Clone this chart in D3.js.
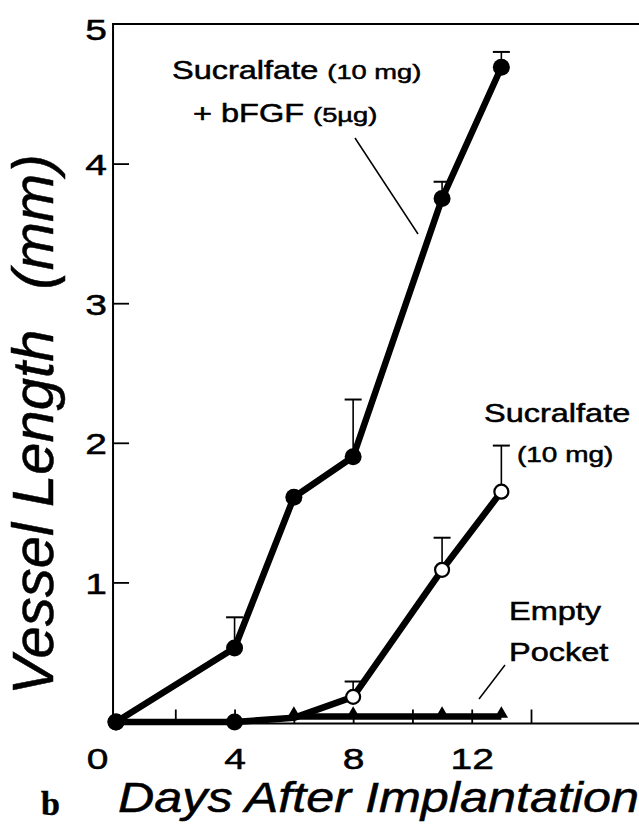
<!DOCTYPE html>
<html>
<head>
<meta charset="utf-8">
<script src="https://cdn.jsdelivr.net/npm/d3@7/dist/d3.min.js"></script>
<style>
  html, body { margin: 0; padding: 0; background: #fff; }
  svg { display: block; }
  text { font-family: "Liberation Sans", Arial, Helvetica, sans-serif; fill: #000; stroke: #000; stroke-width: 0.5px; }
</style>
</head>
<body>
<svg id="chart" width="639" height="836"></svg>
<script>
// ---- data ----
const bfgfDays  = [0, 4, 6, 8, 11, 13];
const bfgfMean  = [0, 0.53, 1.61, 1.90, 3.75, 4.69];
const bfgfUpper = [null, 0.75, null, 2.31, 3.87, 4.80];

const sucDays   = [0, 4, 6, 8, 11, 13];
const sucMean   = [0, 0, 0.03, 0.18, 1.09, 1.65];
const sucUpper  = [null, null, null, 0.29, 1.32, 1.98];

const emptyDays = [6, 8, 11, 13];
const emptyMean = [0.04, 0.04, 0.04, 0.04];

const xTicks      = [2, 4, 6, 8, 10, 12, 14];
const xTickLabels = [0, 4, 8, 12];
const yTicks      = [1, 2, 3, 4];
const yTickLabels = [1, 2, 3, 4, 5];

// ---- layout ----
const svg = d3.select("#chart");
const SX = 1.3; // horizontal stretch of the original figure's lettering

const x = d3.scaleLinear().domain([0, 14]).range([116, 531]);
const y = d3.scaleLinear().domain([0, 5]).range([722, 24]);
const xLeft = x(-0.1), xRight = 639;

// frame: top line, left axis, bottom axis
svg.append("line").attr("x1", xLeft).attr("x2", xRight).attr("y1", y(5)).attr("y2", y(5))
  .attr("stroke", "#000").attr("stroke-width", 2);
svg.append("line").attr("x1", xLeft).attr("x2", xLeft).attr("y1", y(5) - 1).attr("y2", y(0) + 2)
  .attr("stroke", "#000").attr("stroke-width", 2);

// x axis ticks (pointing up into the plot)
const gx = svg.append("g").attr("transform", `translate(0,${y(0) + 1.5})`)
  .call(d3.axisTop(x).tickValues(xTicks).tickSize(14).tickFormat(""));
gx.select(".domain").remove();
gx.selectAll(".tick line").attr("stroke", "#000").attr("stroke-width", 1.8);
svg.append("line").attr("x1", xLeft).attr("x2", xRight).attr("y1", y(0) + 1.5).attr("y2", y(0) + 1.5)
  .attr("stroke", "#000").attr("stroke-width", 2);

// x tick labels
const gxl = svg.append("g").attr("transform", `translate(0,${y(0) + 1.5})`)
  .call(d3.axisBottom(x).tickValues(xTickLabels).tickSize(0).tickPadding(0).tickFormat(d3.format("d")));
gxl.select(".domain").remove();
gxl.selectAll(".tick text")
  .attr("y", 0).attr("dy", 0).attr("fill", "#000")
  .attr("transform", d => `translate(${d === 0 ? -19 : 0},45) scale(${SX},1)`)
  .style("font-size", "30px").style("font-family", "'Liberation Sans', Arial, sans-serif");

// y axis ticks (pointing right)
const gy = svg.append("g").attr("transform", `translate(${xLeft},0)`)
  .call(d3.axisRight(y).tickValues(yTicks).tickSize(16).tickFormat(""));
gy.select(".domain").remove();
gy.selectAll(".tick line").attr("stroke", "#000").attr("stroke-width", 1.8);

// y tick labels
const gyl = svg.append("g").attr("transform", `translate(${xLeft},0)`)
  .call(d3.axisLeft(y).tickValues(yTickLabels).tickSize(0).tickPadding(0).tickFormat(d3.format("d")));
gyl.select(".domain").remove();
gyl.selectAll(".tick text")
  .attr("x", 0).attr("dy", 0).attr("text-anchor", "middle").attr("fill", "#000")
  .attr("transform", d => `translate(-17,${d === 5 ? 15 : 11}) scale(${SX},1)`)
  .style("font-size", "30px").style("font-family", "'Liberation Sans', Arial, sans-serif");

// ---- series ----
const line = d3.line().x(d => x(d.day)).y(d => y(d.v));
const bfgf  = bfgfDays.map((d, i) => ({ day: d, v: bfgfMean[i], up: bfgfUpper[i] }));
const suc   = sucDays.map((d, i) => ({ day: d, v: sucMean[i], up: sucUpper[i] }));
const empty = emptyDays.map((d, i) => ({ day: d, v: emptyMean[i] }));

const LW = 6.5;
svg.append("path").datum(empty).attr("d", line).attr("fill", "none")
  .attr("stroke", "#000").attr("stroke-width", LW);
svg.append("path").datum(suc).attr("d", line).attr("fill", "none")
  .attr("stroke", "#000").attr("stroke-width", LW).attr("stroke-linejoin", "round");
svg.append("path").datum(bfgf).attr("d", line).attr("fill", "none")
  .attr("stroke", "#000").attr("stroke-width", LW).attr("stroke-linejoin", "round");

// error bars
function errorBars(data) {
  const e = data.filter(d => d.up != null);
  svg.selectAll(null).data(e).enter().append("line")
    .attr("x1", d => x(d.day)).attr("x2", d => x(d.day))
    .attr("y1", d => y(d.v)).attr("y2", d => y(d.up))
    .attr("stroke", "#000").attr("stroke-width", 1.6);
  svg.selectAll(null).data(e).enter().append("line")
    .attr("x1", d => x(d.day) - 8.5).attr("x2", d => x(d.day) + 8.5)
    .attr("y1", d => y(d.up)).attr("y2", d => y(d.up))
    .attr("stroke", "#000").attr("stroke-width", 2);
}
errorBars(bfgf);
errorBars(suc);

// markers
svg.selectAll(null).data(empty).enter().append("path")
  .attr("d", d3.symbol().type(d3.symbolTriangle).size(78))
  .attr("transform", d => `translate(${x(d.day)},${y(d.v) - 2.5})`)
  .attr("fill", "#000");

const sucPts = suc.filter(d => d.day !== 6);
svg.selectAll(null).data(sucPts).enter().append("circle")
  .attr("cx", d => x(d.day)).attr("cy", d => y(d.v))
  .attr("r", d => d.v > 0.1 ? 7 : 8.5)
  .attr("fill", d => d.v > 0.1 ? "#fff" : "#000")
  .attr("stroke", "#000").attr("stroke-width", d => d.v > 0.1 ? 2.2 : 0);

svg.selectAll(null).data(bfgf).enter().append("circle")
  .attr("cx", d => x(d.day)).attr("cy", d => y(d.v))
  .attr("r", 8.5).attr("fill", "#000");

// ---- annotations ----
function label(xp, yp, parts) {
  const t = svg.append("text").attr("transform", `translate(${xp},${yp}) scale(${SX},1)`);
  parts.forEach(p => t.append("tspan").text(p[0]).style("font-size", p[1] + "px"));
  return t;
}
label(172, 79, [["Sucralfate ", 25], ["(10 mg)", 21]]);
label(193, 122, [["+ bFGF ", 25], ["(5\u00b5g)", 21]]);
svg.append("line").attr("x1", 355).attr("y1", 138).attr("x2", 418).attr("y2", 234)
  .attr("stroke", "#000").attr("stroke-width", 1.5);

label(484, 422, [["Sucralfate", 25]]);
label(517, 462, [["(10 mg)", 21.5]]);

label(509, 620, [["Empty", 25]]);
label(509, 661, [["Pocket", 25]]);
svg.append("line").attr("x1", 505).attr("y1", 665).attr("x2", 479).attr("y2", 699)
  .attr("stroke", "#000").attr("stroke-width", 1.5);

// axis titles
const yt = svg.append("text")
  .attr("transform", `translate(53,695) rotate(-90)`)
  .attr("text-anchor", "start")
  .style("font-size", "58px").style("font-style", "italic");
yt.append("tspan").text("Vessel Length");
yt.append("tspan").attr("dx", 40).text("(mm)");

svg.append("text")
  .attr("x", 118).attr("y", 812)
  .attr("textLength", 521).attr("lengthAdjust", "spacingAndGlyphs")
  .style("font-size", "42px").style("font-style", "italic")
  .text("Days After Implantation");

svg.append("text")
  .attr("transform", `translate(41,815)`)
  .style("font-family", "'Liberation Serif', 'Times New Roman', serif")
  .style("font-size", "34px").style("font-weight", "bold")
  .text("b");
</script>
</body>
</html>
